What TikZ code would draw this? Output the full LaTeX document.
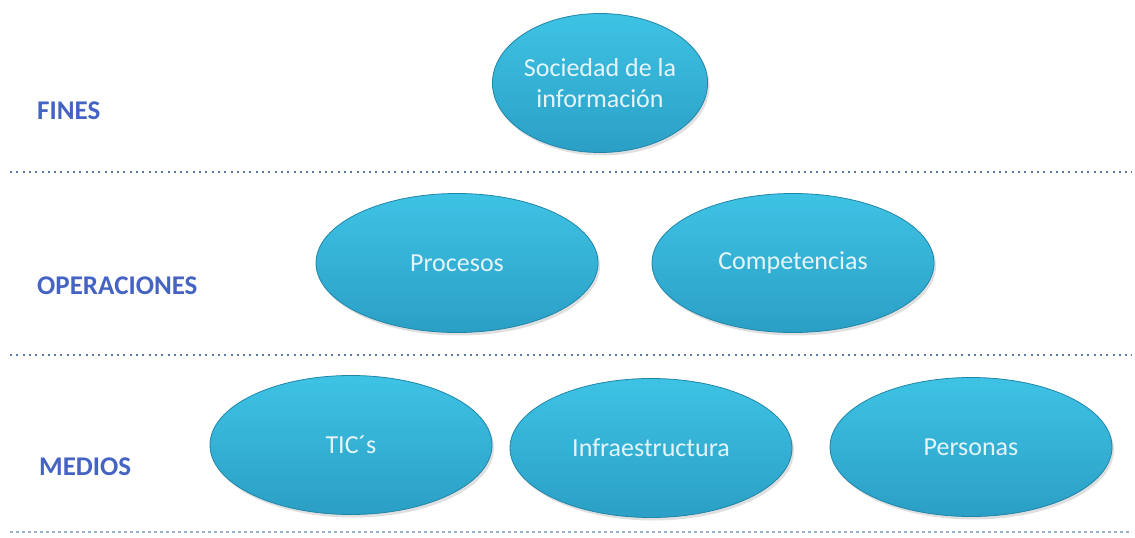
\documentclass[tikz,border=0pt]{standalone}
\usepackage{fontspec}
\setmainfont{Carlito}
\usetikzlibrary{shapes.geometric,shadows}
\definecolor{elltop}{HTML}{3EC3E5}
\definecolor{ellbot}{HTML}{2B9FC5}
\definecolor{elledge}{HTML}{1F86A8}
\definecolor{elltext}{HTML}{E4F5FA}
\definecolor{lbl}{HTML}{4563C2}
\definecolor{sep}{HTML}{5B78A6}
\definecolor{seplight}{HTML}{9AB0CC}
\tikzset{
  blob/.style={ellipse, inner sep=0pt, minimum width=282pt, minimum height=139pt,
    top color=elltop, bottom color=ellbot, draw=elledge, line width=0.8pt,
    text=elltext, font=\fontsize{26}{31}\selectfont, align=center,
    drop shadow={shadow xshift=2pt, shadow yshift=-3pt, opacity=0.35, fill=gray!70}},
  level/.style={anchor=west, text=lbl, font=\fontsize{27}{30}\selectfont\bfseries, inner sep=0pt},
  sepline/.style={draw=sep, line width=2pt, dash pattern=on 2pt off 4.3pt},
  seplinelight/.style={draw=seplight, line width=1.2pt, dash pattern=on 3pt off 3pt}
}
\begin{document}
\begin{tikzpicture}[x=1pt,y=-1pt]
\useasboundingbox (0,0) rectangle (1135,538);
\fill[white] (0,0) rectangle (1135,538);
% separators
\coordinate (s1a) at (10,172); \coordinate (s1b) at (1132,172);
\coordinate (s2a) at (10,355); \coordinate (s2b) at (1132,355);
\coordinate (s3a) at (10,532); \coordinate (s3b) at (1132,532);
\draw[sepline] (s1a) -- (s1b);
\draw[sepline] (s2a) -- (s2b);
\draw[seplinelight] (s3a) -- (s3b);
% labels
\node[level] (fines) at (37,111) {FINES};
\node[level] (oper) at (37,286) {OPERACIONES};
\node[level] (medios) at (39,467) {MEDIOS};
% ellipses
\node[blob, minimum width=210pt, minimum height=139pt] (soc) at (600,83) {Sociedad de la\\información};
\node[blob] (proc) at (457,263) {Procesos};
\node[blob] (comp) at (793,263) {Competencias};
\node[blob] (tic) at (351,445) {TIC´s};
\node[blob] (infra) at (651,448) {Infraestructura};
\node[blob] (pers) at (971,447) {Personas};
\end{tikzpicture}
\end{document}
